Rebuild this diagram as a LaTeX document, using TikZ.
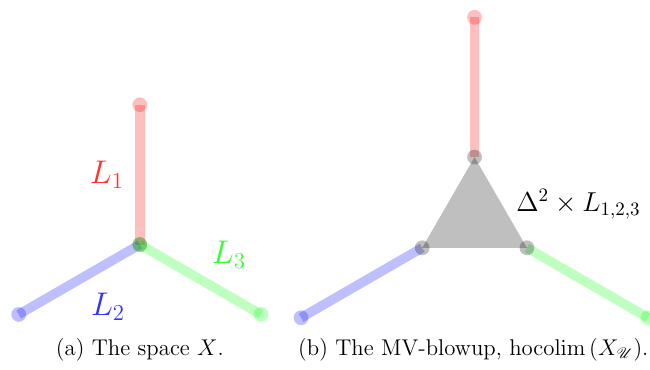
\documentclass[tikz,border=0pt]{standalone}
\usepackage{amsmath, amssymb, mathrsfs}
\usepackage{tikz}
\usetikzlibrary{calc}
\usepackage{tkz-euclide}

\begin{document}
\begin{tikzpicture}[arm/.style={line width=5pt, opacity=.25},
                    knob/.style={opacity=.25}]
            \useasboundingbox (0,0) rectangle (12.04,6.85);
            % (a) the space
            \tkzDefPoint(2.59,2.32){O}
            \coordinate (A) at ($(O)+(90:2.59)$);
            \coordinate (B) at ($(O)+(210:2.59)$);
            \coordinate (C) at ($(O)+(330:2.59)$);
            \draw[arm, red] (O) -- (A);
            \draw[arm, blue] (O) -- (B);
            \draw[arm, green] (O) -- (C);
            \fill[knob, red] (A) circle (3.9pt);
            \fill[knob, blue] (B) circle (3.9pt);
            \fill[knob, green] (C) circle (3.9pt);
            \fill[knob, black] (O) circle (3.9pt);
            \fill[knob, green] (O) circle (3.9pt);
            \node[text=red!80, font=\LARGE] (l1) at (1.98,3.61) {$L_1$};
            \node[text=blue!80, font=\LARGE] (l2) at (2.0,1.17) {$L_2$};
            \node[text=green!80, font=\LARGE] (l3) at (4.24,2.13) {$L_3$};
            % (b) the blowup
            \tkzDefPoint(8.79,2.82){M}
            \coordinate (P) at ($(M)+(90:1.12)$);
            \coordinate (Q) at ($(M)+(210:1.12)$);
            \coordinate (R) at ($(M)+(330:1.12)$);
            \coordinate (D) at ($(P)+(90:2.59)$);
            \coordinate (E) at ($(Q)+(210:2.59)$);
            \coordinate (F) at ($(R)+(330:2.59)$);
            \fill[knob, black] (P) -- (Q) -- (R) -- cycle;
            \draw[arm, red] (P) -- (D);
            \draw[arm, blue] (Q) -- (E);
            \draw[arm, green] (R) -- (F);
            \fill[knob, red] (D) circle (3.9pt);
            \fill[knob, blue] (E) circle (3.9pt);
            \fill[knob, green] (F) circle (3.9pt);
            \fill[knob, black] (P) circle (3.9pt) (Q) circle (3.9pt) (R) circle (3.9pt);
            \node[font=\Large, anchor=base west] (simplex) at (9.44,2.935) {$\Delta^2\times L_{1,2,3}$};
            % captions
            \node[font=\large, anchor=base] (capa) at (2.59,0.265) {(a) The space $X$.};
            \node[font=\large, anchor=base west] (capb) at (5.4,0.265) {(b) The MV-blowup, $\operatorname{hocolim}\left(X_{\mathscr{U}}\right)$.};
        \end{tikzpicture}
\end{document}
